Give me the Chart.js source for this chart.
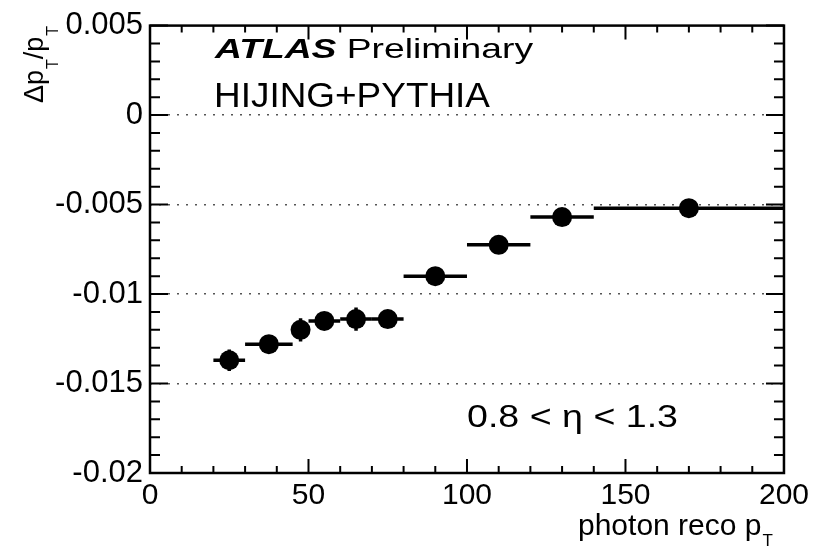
<!DOCTYPE html>
<html>
<head>
<meta charset="utf-8">
<script src="https://cdn.jsdelivr.net/npm/chart.js@4/dist/chart.umd.min.js"></script>
<style>
  html, body { margin: 0; padding: 0; background: #fff; }
  #wrap { width: 814px; height: 548px; }
</style>
</head>
<body>
<div id="wrap"><canvas id="resolution-chart"></canvas></div>
<script>
// bins in photon reco pT and the relative pT shift
const binLow = [20, 30, 45, 50, 60, 70, 80, 100, 120, 140];
const binHigh = [30, 45, 50, 60, 70, 80, 100, 120, 140, 200];
const binCenter = [25, 37.5, 47.5, 55, 65, 75, 90, 110, 130, 170];
const shiftValues = [-0.0137, -0.0128, -0.0120, -0.0115, -0.0114, -0.0114, -0.0090, -0.00725, -0.0057, -0.0052];
const shiftErrors = [0.0006, 0.0004, 0.00065, 0.0004, 0.00065, 0.0004, 0.0003, 0.0003, 0.0003, 0.0003];
const yTickValues = [0.005, 0, -0.005, -0.01, -0.015, -0.02];
const xTickValues = [0, 50, 100, 150, 200];

const FONT = "'Liberation Sans', Arial, Helvetica, sans-serif";

document.addEventListener("DOMContentLoaded", function () {
    const points = binCenter.map((x, i) => ({ x: x, y: shiftValues[i] }));

    // draws a text run squeezed/stretched to a given width
    function fitText(ctx, parts, x, y, width) {
        let total = 0;
        parts.forEach(p => { ctx.font = p.font; total += ctx.measureText(p.text).width; });
        ctx.save();
        ctx.translate(x, y);
        ctx.scale(width / total, 1);
        let cx = 0;
        parts.forEach(p => {
            ctx.font = p.font;
            ctx.fillText(p.text, cx, 0);
            cx += ctx.measureText(p.text).width;
        });
        ctx.restore();
    }

    // horizontal bin widths and vertical errors
    const errorBars = {
        id: 'errorBars',
        beforeDatasetsDraw(chart) {
            const ctx = chart.ctx;
            const xs = chart.scales.x, ys = chart.scales.y;
            ctx.save();
            ctx.strokeStyle = '#000';
            ctx.lineWidth = 3.5;
            for (let i = 0; i < binCenter.length; i++) {
                const y = ys.getPixelForValue(shiftValues[i]);
                ctx.beginPath();
                ctx.moveTo(xs.getPixelForValue(binLow[i]), y);
                ctx.lineTo(xs.getPixelForValue(binHigh[i]), y);
                const x = xs.getPixelForValue(binCenter[i]);
                ctx.moveTo(x, ys.getPixelForValue(shiftValues[i] - shiftErrors[i]));
                ctx.lineTo(x, ys.getPixelForValue(shiftValues[i] + shiftErrors[i]));
                ctx.stroke();
            }
            ctx.restore();
        }
    };

    // ROOT style frame, inward ticks and labels
    const frameAndText = {
        id: 'frameAndText',
        afterDraw(chart) {
            const ctx = chart.ctx;
            const a = chart.chartArea;
            const xs = chart.scales.x, ys = chart.scales.y;
            ctx.save();
            ctx.strokeStyle = '#000';
            ctx.lineWidth = 2;
            ctx.beginPath();
            for (let v = 0; v <= 200; v += 10) {
                const px = xs.getPixelForValue(v);
                const len = v % 50 === 0 ? 14 : 7;
                ctx.moveTo(px, a.bottom); ctx.lineTo(px, a.bottom - len);
                ctx.moveTo(px, a.top); ctx.lineTo(px, a.top + len);
            }
            for (let k = -20; k <= 5; k++) {
                const py = ys.getPixelForValue(k / 1000);
                const len = k % 5 === 0 ? 18 : 10;
                ctx.moveTo(a.left, py); ctx.lineTo(a.left + len, py);
                ctx.moveTo(a.right, py); ctx.lineTo(a.right - len, py);
            }
            ctx.stroke();
            ctx.lineWidth = 2.5;
            ctx.strokeRect(a.left, a.top, a.right - a.left, a.bottom - a.top);

            ctx.fillStyle = '#000';
            ctx.textBaseline = 'alphabetic';
            ctx.textAlign = 'left';

            fitText(ctx, [
                { text: "ATLAS ", font: "italic bold 28px " + FONT },
                { text: "Preliminary", font: "28px " + FONT }
            ], 215, 58, 318);

            fitText(ctx, [{ text: "HIJING+PYTHIA", font: "35px " + FONT }], 214, 107, 276);

            fitText(ctx, [{ text: "0.8 < \u03b7 < 1.3", font: "31px " + FONT }], 467, 427, 211);

            // x title
            ctx.font = "30px " + FONT;
            ctx.fillText("photon reco p", 578, 535);
            const xw = ctx.measureText("photon reco p").width;
            ctx.font = "17px " + FONT;
            ctx.fillText("T", 578 + xw + 1, 546);

            // y title
            ctx.save();
            ctx.translate(43, 103);
            ctx.rotate(-Math.PI / 2);
            let cx = 0;
            ctx.font = "27px " + FONT;
            ctx.fillText("\u0394p", cx, 0);
            cx += ctx.measureText("\u0394p").width;
            ctx.font = "16px " + FONT;
            ctx.fillText("T", cx + 1, 15);
            cx += ctx.measureText("T").width + 1;
            ctx.font = "27px " + FONT;
            ctx.fillText("/p", cx, 0);
            cx += ctx.measureText("/p").width;
            ctx.font = "16px " + FONT;
            ctx.fillText("T", cx + 1, 15);
            ctx.restore();

            ctx.restore();
        }
    };

    const ctx = document.getElementById("resolution-chart");
    new Chart(ctx, {
        type: 'scatter',
        data: {
            datasets: [{
                data: points,
                backgroundColor: '#000',
                borderColor: '#000',
                pointRadius: 10,
                pointHoverRadius: 10,
                borderWidth: 0
            }]
        },
        options: {
            responsive: true,
            maintainAspectRatio: false,
            animation: false,
            layout: { padding: { top: 18, right: 29, left: 0, bottom: 0 } },
            plugins: {
                legend: { display: false },
                tooltip: { enabled: false }
            },
            scales: {
                x: {
                    type: 'linear',
                    min: 0,
                    max: 200,
                    afterFit: s => { s.height = 75; },
                    afterBuildTicks: s => { s.ticks = xTickValues.map(v => ({ value: v })); },
                    grid: { display: false, drawTicks: false },
                    border: { display: false },
                    ticks: {
                        padding: 5,
                        color: '#000',
                        font: { family: FONT, size: 30 },
                        maxRotation: 0
                    }
                },
                y: {
                    type: 'linear',
                    min: -0.02,
                    max: 0.005,
                    afterFit: s => { s.width = 150; },
                    afterBuildTicks: s => { s.ticks = yTickValues.map(v => ({ value: v })); },
                    grid: {
                        drawTicks: false,
                        lineWidth: 1.5,
                        color: c => (c.tick && c.tick.value < 0.004 && c.tick.value > -0.019) ? '#555' : 'rgba(0,0,0,0)'
                    },
                    border: { display: false, dash: [2, 7] },
                    ticks: {
                        padding: 7,
                        color: '#000',
                        font: { family: FONT, size: 31 },
                        callback: v => String(parseFloat(Number(v).toFixed(3)))
                    }
                }
            }
        },
        plugins: [errorBars, frameAndText]
    });
});
</script>
</body>
</html>
